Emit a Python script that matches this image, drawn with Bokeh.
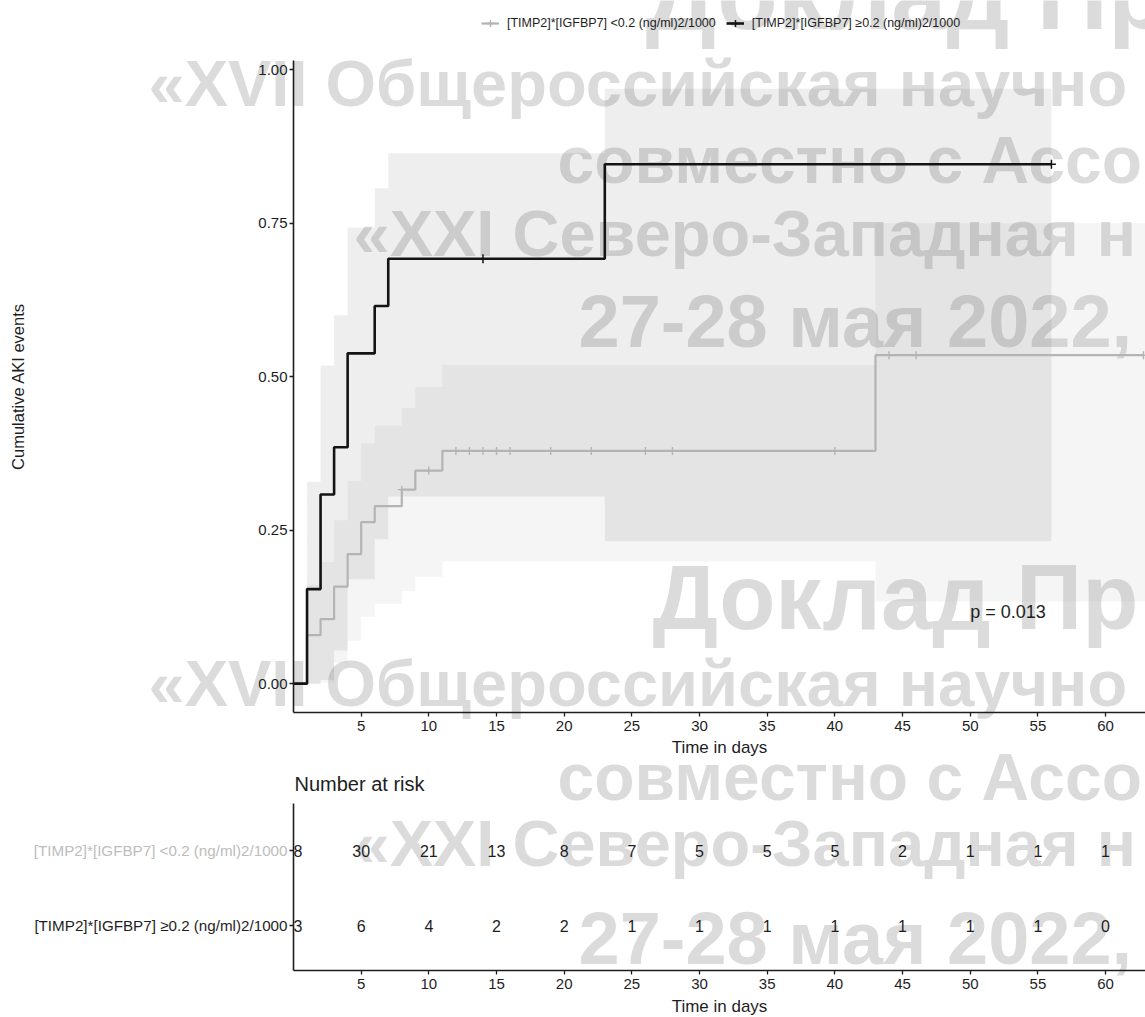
import numpy as np
from bokeh.plotting import figure
from bokeh.models import (Range1d, FixedTicker, Label, Legend, LegendItem,
                          NumeralTickFormatter, LinearAxis)
from bokeh.embed import file_html
from bokeh.resources import INLINE
from bokeh.core.properties import value

# ---- Kaplan-Meier cumulative AKI events, [TIMP2]*[IGFBP7] < 0.2 ----
time_lo = [0, 1, 2, 3, 4, 5, 6, 8, 9, 11, 43]
est_lo = [0.000, 0.079, 0.105, 0.158, 0.211, 0.263, 0.289, 0.316, 0.347, 0.379, 0.535]
upper_lo = [0.000, 0.161, 0.198, 0.266, 0.330, 0.391, 0.420, 0.449, 0.483, 0.519, 0.750]
lower_lo = [0.000, 0.000, 0.002, 0.034, 0.070, 0.109, 0.130, 0.151, 0.174, 0.199, 0.134]
end_lo = 62.8
censor_lo = [8, 10, 12, 13, 14, 15, 16, 19, 22, 26, 28, 40, 44, 46, 62.8]

# ---- [TIMP2]*[IGFBP7] >= 0.2 ----
time_hi = [0, 1, 2, 3, 4, 6, 7, 23]
est_hi = [0.000, 0.154, 0.308, 0.385, 0.538, 0.615, 0.692, 0.846]
upper_hi = [0.000, 0.329, 0.518, 0.600, 0.743, 0.807, 0.864, 0.969]
lower_hi = [0.000, 0.000, 0.006, 0.054, 0.170, 0.235, 0.305, 0.232]
end_hi = 56
censor_hi = [14, 56]

# ---- number at risk ----
risk_times = [0, 5, 10, 15, 20, 25, 30, 35, 40, 45, 50, 55, 60]
risk_lo = [38, 30, 21, 13, 8, 7, 5, 5, 5, 2, 1, 1, 1]
risk_hi = [13, 6, 4, 2, 2, 1, 1, 1, 1, 1, 1, 1, 0]

group_labels = ["[TIMP2]*[IGFBP7] <0.2 (ng/ml)2/1000",
                "[TIMP2]*[IGFBP7] \u22650.2 (ng/ml)2/1000"]
x_ticks = [5, 10, 15, 20, 25, 30, 35, 40, 45, 50, 55, 60]
y_ticks = [0.0, 0.25, 0.5, 0.75, 1.0]
p_value_text = "p = 0.013"

COL_LO = "#b4b4b4"
COL_HI = "#141414"
TXT = "#1e1e1e"
FONT = "Liberation Sans"

# ---- page geometry (pixels, from the top-left corner) ----
W, H = 1145, 1017
PANEL_L, PANEL_R = 293, 1145          # left/right edge of both panels
MAIN_T, MAIN_B = 60, 712              # survival panel top / bottom
RISK_T, RISK_B = 803, 970             # risk table panel top / bottom
X_RANGE = (0, 62.95)
Y_RANGE = (-0.047, 1.015)
RISK_Y = (0.4, 2.627)
BASELINE_SHIFT = 0.39                 # Label "alphabetic" anchor sits this many em above the baseline


def page_range(lo, hi, px_lo, px_hi, total, flip=False):
    """Extend a data interval shown between two pixel positions to the whole page."""
    k = (hi - lo) / (px_hi - px_lo)
    if flip:   # vertical: pixel rows grow downwards, values upwards
        return Range1d(lo - (total - px_hi) * k, hi + px_lo * k)
    return Range1d(lo - px_lo * k, hi + (total - px_hi) * k)


def step_xy(times, vals, end):
    return list(times) + [end], list(vals) + [vals[-1]]


def value_at(times, vals, t):
    idx = np.searchsorted(np.asarray(times), np.asarray(t), side="right") - 1
    return [float(v) for v in np.asarray(vals)[idx]]


def style_axis(ax, label_size="15px"):
    ax.axis_line_width = 1.6
    ax.axis_line_color = TXT
    ax.major_tick_line_color = TXT
    ax.major_tick_line_width = 1.3
    ax.major_tick_out = 4
    ax.major_tick_in = 0
    ax.minor_tick_line_color = None
    ax.major_label_text_font = FONT
    ax.major_label_text_font_size = label_size
    ax.major_label_text_color = TXT
    ax.axis_label_text_font = FONT
    ax.axis_label_text_font_style = "normal"
    ax.axis_label_text_color = TXT
    ax.axis_label_text_font_size = "17px"


p = figure(width=W, height=H, output_backend="svg", toolbar_location=None,
           x_axis_type=None, y_axis_type=None, min_border=0,
           x_range=page_range(*X_RANGE, PANEL_L, PANEL_R, W),
           y_range=page_range(*Y_RANGE, MAIN_T, MAIN_B, H, flip=True))
p.outline_line_color = None
p.extra_y_ranges = {"risk": page_range(*RISK_Y, RISK_T, RISK_B, H, flip=True),
                    "px": Range1d(H, 0)}
p.extra_x_ranges = {"px": Range1d(0, W)}

# ---- conference watermark, underneath the chart ----
# (text, font size px, left edge px, baseline px)
watermark = [
    ("Доклад Пр", 99, 645, 33),
    ("«XVII Общероссийская научно", 65, 148, 108),
    ("совместно с Ассо", 66, 557, 185),
    ("«XXI Северо-Западная н", 65, 353, 258),
    ("27-28 мая 2022,", 74, 578, 350),
    ("Доклад Пр", 92, 652, 632),
    ("«XVII Общероссийская научно", 65, 148, 708),
    ("совместно с Ассо", 66, 557, 802),
    ("«XXI Северо-Западная н", 65, 353, 868),
    ("27-28 мая 2022,", 74, 578, 967),
]
for text, size, px, py in watermark:
    p.add_layout(Label(x=px, y=py - BASELINE_SHIFT * size,
                       x_range_name="px", y_range_name="px",
                       text=text, text_font=FONT, text_font_style="bold",
                       text_font_size=f"{size}px", text_color="#bdbdbd",
                       text_alpha=0.55, text_align="left",
                       text_baseline="alphabetic", level="underlay"))

# ---- survival panel axes ----
ya = LinearAxis(fixed_location=X_RANGE[0], bounds=Y_RANGE,
                ticker=FixedTicker(ticks=y_ticks),
                formatter=NumeralTickFormatter(format="0.00"),
                axis_label="Cumulative AKI events")
style_axis(ya)
ya.major_label_standoff = 2
ya.axis_label_text_font_size = "16.5px"
ya.axis_label_standoff = 228
p.add_layout(ya, "left")

xa = LinearAxis(fixed_location=Y_RANGE[0], bounds=X_RANGE,
                ticker=FixedTicker(ticks=x_ticks), axis_label="Time in days")
style_axis(xa)
xa.major_label_standoff = 4
xa.axis_label_standoff = 4
p.add_layout(xa, "below")

# confidence bands
bx, by1 = step_xy(time_lo, lower_lo, end_lo)
_, by2 = step_xy(time_lo, upper_lo, end_lo)
p.varea_step(x=bx + [X_RANGE[1]], y1=by1 + [by1[-1]], y2=by2 + [by2[-1]],
             step_mode="after", fill_color="#a0a0a0", fill_alpha=0.11)
bx, by1 = step_xy(time_hi, lower_hi, end_hi)
_, by2 = step_xy(time_hi, upper_hi, end_hi)
p.varea_step(x=bx, y1=by1, y2=by2, step_mode="after",
             fill_color="black", fill_alpha=0.065)

# curves with censoring marks
sx, sy = step_xy(time_lo, est_lo, end_lo)
line_lo = p.step(sx, sy, mode="after", line_color=COL_LO, line_width=2.2)
cens_lo = p.scatter(censor_lo, value_at(time_lo, est_lo, censor_lo),
                    marker="cross", size=8, line_color=COL_LO, line_width=1.4)
sx, sy = step_xy(time_hi, est_hi, end_hi)
line_hi = p.step(sx, sy, mode="after", line_color=COL_HI, line_width=2.6)
cens_hi = p.scatter(censor_hi, value_at(time_hi, est_hi, censor_hi),
                    marker="cross", size=9, line_color=COL_HI, line_width=1.5)

p.add_layout(Label(x=50.0, y=0.116, text=p_value_text, text_font=FONT,
                   text_font_size="18px", text_color=TXT,
                   text_align="left", text_baseline="middle"))

legend = Legend(items=[LegendItem(label=group_labels[0], renderers=[line_lo, cens_lo]),
                       LegendItem(label=group_labels[1], renderers=[line_hi, cens_hi])],
                orientation="horizontal", location=(481, H - 32),
                padding=0, margin=0, spacing=10, glyph_width=18, glyph_height=18,
                label_standoff=8, label_text_font=FONT,
                label_text_font_size="12.5px", label_text_color=TXT,
                border_line_color=None, background_fill_alpha=0)
p.add_layout(legend, "center")

# ---- number-at-risk table ----
rxa = LinearAxis(y_range_name="risk", fixed_location=RISK_Y[0], bounds=X_RANGE,
                 ticker=FixedTicker(ticks=x_ticks), axis_label="Time in days")
style_axis(rxa)
rxa.major_label_standoff = 4
rxa.axis_label_standoff = 5
p.add_layout(rxa, "below")

rya = LinearAxis(y_range_name="risk", fixed_location=X_RANGE[0], bounds=RISK_Y,
                 ticker=FixedTicker(ticks=[1, 2]))
style_axis(rya)
rya.major_label_text_alpha = 0
p.add_layout(rya, "left")

rows = [2] * len(risk_times) + [1] * len(risk_times)
p.text(x=risk_times + risk_times, y=rows, y_range_name="risk",
       text=[str(v) for v in risk_lo + risk_hi],
       text_font=value(FONT), text_font_size="16px", text_color=TXT,
       text_align="center", text_baseline="middle")
# the table panel cuts the counts at day 0 along its left edge
p.quad(left=[PANEL_L - 12], right=[PANEL_L], top=[RISK_T], bottom=[RISK_B],
       x_range_name="px", y_range_name="px", fill_color="white", line_color=None)

for yrow, lab, col in [(2, group_labels[0], "#bdbdbd"), (1, group_labels[1], TXT)]:
    p.add_layout(Label(x=X_RANGE[0], y=yrow, y_range_name="risk", x_offset=-6,
                       text=lab, text_font=FONT, text_font_size="15.2px",
                       text_color=col, text_align="right", text_baseline="middle"))

p.add_layout(Label(x=PANEL_L + 1, y=791 - BASELINE_SHIFT * 20,
                   x_range_name="px", y_range_name="px",
                   text="Number at risk", text_font=FONT, text_font_size="20px",
                   text_color=TXT, text_align="left", text_baseline="alphabetic"))

open("out.html", "w").write(file_html(p, INLINE))
